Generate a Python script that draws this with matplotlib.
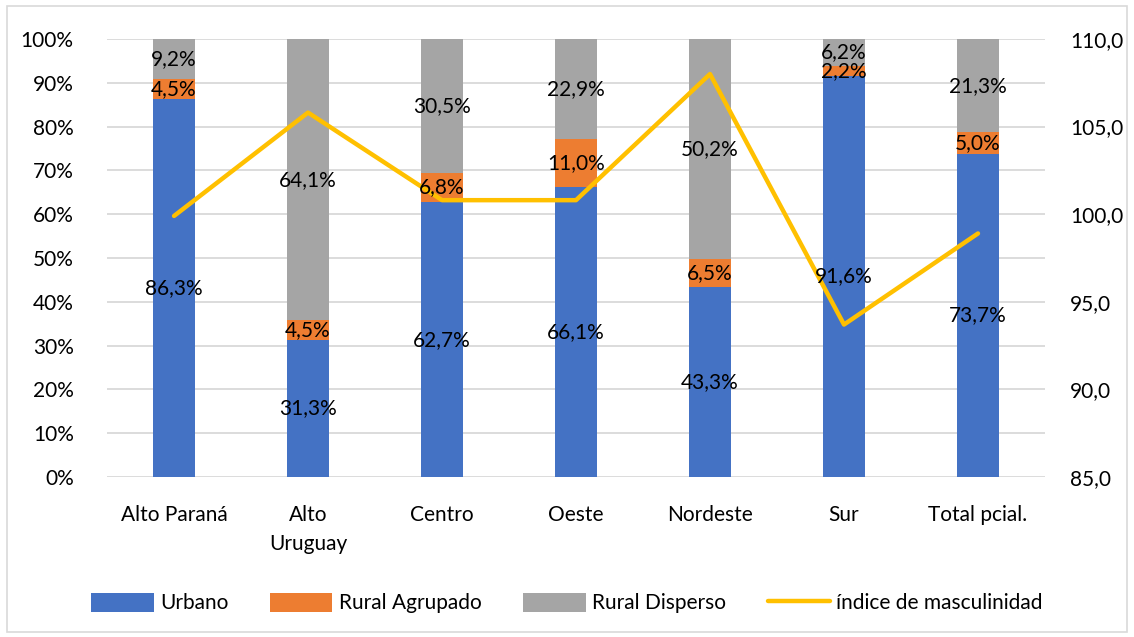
import matplotlib.pyplot as plt
import numpy as np
from matplotlib.patches import Rectangle

plt.rcParams['font.family'] = ['Lato', 'DejaVu Sans']

# Data
categories = ['Alto Paraná', 'Alto\nUruguay', 'Centro', 'Oeste', 'Nordeste', 'Sur', 'Total pcial.']
urbano = [86.3, 31.3, 62.7, 66.1, 43.3, 91.6, 73.7]
rural_agrupado = [4.5, 4.5, 6.8, 11.0, 6.5, 2.2, 5.0]
rural_disperso = [9.2, 64.1, 30.5, 22.9, 50.2, 6.2, 21.3]
masculinidad = [99.9, 105.8, 100.8, 100.8, 108.0, 93.7, 98.9]

BLUE = '#4472C4'
ORANGE = '#ED7D31'
GRAY = '#A5A5A5'
YELLOW = '#FFC000'

fig = plt.figure(figsize=(11.34, 6.37), dpi=100)
ax = fig.add_axes([0.0944, 0.2512, 0.8271, 0.6876])
ax2 = ax.twinx()

x = np.arange(len(categories))
w = 0.32
series = [('Urbano', urbano, BLUE), ('Rural Agrupado', rural_agrupado, ORANGE),
          ('Rural Disperso', rural_disperso, GRAY)]
bottom = np.zeros(len(categories))
handles = []
for name, vals, col in series:
    vals = np.array(vals)
    b = ax.bar(x, vals, w, bottom=bottom, color=col, label=name, zorder=2)
    handles.append(b)
    # labels go on the top axes so they sit above the line, like in Excel
    for xi, v, bt in zip(x, vals, bottom):
        ax2.text(xi, bt + v / 2, f'{v:.1f}%'.replace('.', ','), ha='center', va='center',
                 fontsize=15, color='black', zorder=5, transform=ax.transData)
    bottom += vals

ax.set_ylim(0, 100)
ax.set_xlim(-0.5, len(categories) - 0.5)
ax.set_yticks(np.arange(0, 101, 10))
ax.set_yticklabels([f'{v}%' for v in range(0, 101, 10)])
ax.set_xticks(x)
ax.set_xticklabels(categories, linespacing=1.55)
ax.yaxis.grid(True, color='#D9D9D9', linewidth=1.3, zorder=0)
ax.set_axisbelow(True)
for s in ax.spines.values():
    s.set_visible(False)
ax.tick_params(axis='both', length=0, labelsize=15, colors='black')
ax.tick_params(axis='y', pad=24)
ax.tick_params(axis='x', pad=20)

line, = ax2.plot(x, masculinidad, color=YELLOW, linewidth=3.2, solid_capstyle='round',
                 label='índice de masculinidad', zorder=4)
ax2.set_ylim(85, 110)
ax2.set_yticks(np.arange(85, 111, 5))
ax2.set_yticklabels([f'{v:.1f}'.replace('.', ',') for v in np.arange(85, 111, 5)])
for s in ax2.spines.values():
    s.set_visible(False)
ax2.tick_params(axis='y', length=0, labelsize=15, colors='black', pad=18)

fig.legend(handles + [line], ['Urbano', 'Rural Agrupado', 'Rural Disperso', 'índice de masculinidad'],
           loc='center', bbox_to_anchor=(0.5, 0.053), ncol=4, frameon=False, fontsize=15,
           handlelength=3.0, handleheight=1.0, columnspacing=2.0, handletextpad=0.3)

# chart area border
fig.patches.append(Rectangle((0.006, 0.008), 0.988, 0.982, transform=fig.transFigure,
                             fill=False, edgecolor='#D9D9D9', linewidth=1.2))

fig.savefig('out.png', dpi=100)
